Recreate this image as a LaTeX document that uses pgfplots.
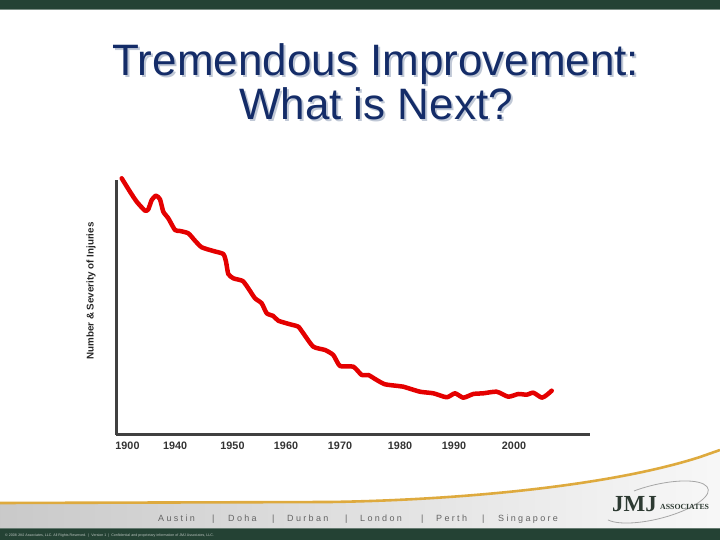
\documentclass[border=0pt]{standalone}
\usepackage{pgfplots}
\pgfplotsset{compat=1.18}
\usepackage{pgfplotstable}
\usepackage{fontspec}
\setmainfont{Liberation Sans}
\newfontfamily\logofont{Liberation Serif}

\definecolor{barGreen}{RGB}{36,66,52}
\definecolor{titleBlue}{RGB}{20,44,104}
\definecolor{titleShadow}{RGB}{192,200,214}
\definecolor{axisGray}{RGB}{64,64,64}
\definecolor{lineRed}{RGB}{228,0,0}
\definecolor{swoosh}{RGB}{222,170,62}
\definecolor{cityGray}{RGB}{100,100,100}
\definecolor{logoInk}{RGB}{45,58,50}

\newcommand\shadowed[1]{\rlap{\hspace{2pt}\raisebox{-2pt}{\textcolor{titleShadow}{#1}}}#1}

% x: position along the time axis, y: injuries index (axis units)
\pgfplotstableread{
x      y
121.7  256.7
130.0  243.3
136.7  233.3
145.0  224.3
148.3  225.7
151.7  235.0
156.0  239.3
160.0  235.7
163.3  223.3
168.3  216.7
175.0  205.0
180.0  204.0
188.3  201.7
195.0  194.3
201.7  187.7
213.3  184.0
223.3  181.0
226.0  173.3
228.3  161.0
233.3  156.7
242.7  154.0
248.3  146.7
255.0  136.7
261.7  131.7
266.7  121.7
273.3  119.0
278.3  114.3
290.0  110.7
298.3  108.3
303.3  101.7
313.3   88.3
325.0   85.0
333.3   80.0
340.0   69.0
353.3   68.3
361.7   60.0
368.3   60.0
376.7   55.0
385.0   50.7
398.3   49.0
403.3   48.3
420.0   43.3
433.3   41.7
446.7   37.7
455.0   41.7
463.3   37.3
473.3   41.0
483.3   41.7
496.7   43.3
508.3   38.3
518.3   41.0
526.7   40.3
533.3   42.3
541.7   37.3
546.7   40.0
551.7   44.3
}\injuries

\begin{document}
\begin{tikzpicture}[x=1pt,y=1pt]
\path[use as bounding box] (0,0) rectangle (720,540);

% header bar
\fill[barGreen] (0,531) rectangle (720,540);
\fill[barGreen!60] (0,530) rectangle (720,531);

% title with its soft shadow (base = baseline of the last line)
\node[anchor=base, align=center, text=titleBlue, inner sep=0pt,
      font=\fontsize{44}{38}\selectfont]
  at (376,420) {\shadowed{Tremendous Improvement:}\\\shadowed{What is Next?}};

\begin{axis}[
  at={(116,105)}, anchor=south west,
  scale only axis, width=474pt, height=255pt,
  xmin=116, xmax=590, ymin=0, ymax=255,
  axis x line=bottom, axis y line=left,
  axis line style={-, axisGray, line width=3pt},
  xtick={127.5,175.2,232.5,286,340,400,454,514},
  xticklabels={1900,1940,1950,1960,1970,1980,1990,\raisebox{-2pt}{2000}},
  ytick=\empty,
  major tick length=0pt,
  xticklabel style={font=\fontsize{10.8}{12}\selectfont\bfseries, text=black!80, yshift=-3pt},
  clip=false,
]
\addplot[lineRed, line width=4.5pt, line join=round, line cap=round, smooth, tension=0.35]
  table[x=x,y=y] {\injuries};
\end{axis}

\node[rotate=90, anchor=center, font=\fontsize{9.8}{11}\selectfont\bfseries, text=black!85]
  at (91,249) {Number \& Severity of Injuries};

% footer band
\fill[left color=black!21, right color=black!3]
  (0,11) -- (0,37) -- (330,38) .. controls (460,40) and (610,54) .. (700,83) -- (720,90) -- (720,11) -- cycle;
\draw[swoosh, line width=2.6pt]
  (0,37) -- (330,38) .. controls (460,40) and (610,54) .. (700,83) -- (720,90);

% cities
\begin{scope}[every node/.style={anchor=base west, inner sep=0pt, text=cityGray,
    font=\fontsize{9}{10}\selectfont\addfontfeature{LetterSpace=26}}]
  \node at (158,18) {Austin};
  \node at (212,18) {|};
  \node at (228,18) {Doha};
  \node at (272,18) {|};
  \node at (287,18) {Durban};
  \node at (345,18) {|};
  \node at (360,18) {London};
  \node at (421,18) {|};
  \node at (436,18) {Perth};
  \node at (482,18) {|};
  \node at (498,18) {Singapore};
\end{scope}

% logo
\draw[black!35, line width=0.8pt, rotate around={14:(655,38)}]
  (605,32) arc[start angle=200, end angle=470, x radius=54pt, y radius=17pt];
\node[anchor=base west, inner sep=0pt, text=logoInk, font=\logofont\bfseries\fontsize{23}{24}\selectfont]
  at (612,28) {JMJ};
\node[anchor=base west, inner sep=0pt, text=logoInk, font=\logofont\bfseries\fontsize{7.8}{9}\selectfont]
  at (660,30) {ASSOCIATES};

% bottom bar
\fill[barGreen] (0,0) rectangle (720,11);
\fill[barGreen!70] (0,10.5) rectangle (720,11.5);
\node[anchor=base west, inner sep=0pt, text=white!70!barGreen, font=\fontsize{3.6}{4}\selectfont]
  at (5,3.5) {\textcopyright{} 2008 JMJ Associates, LLC. All Rights Reserved. \ | \ Version 1 \ | \ Confidential and proprietary information of JMJ Associates, LLC.};
\end{tikzpicture}
\end{document}
